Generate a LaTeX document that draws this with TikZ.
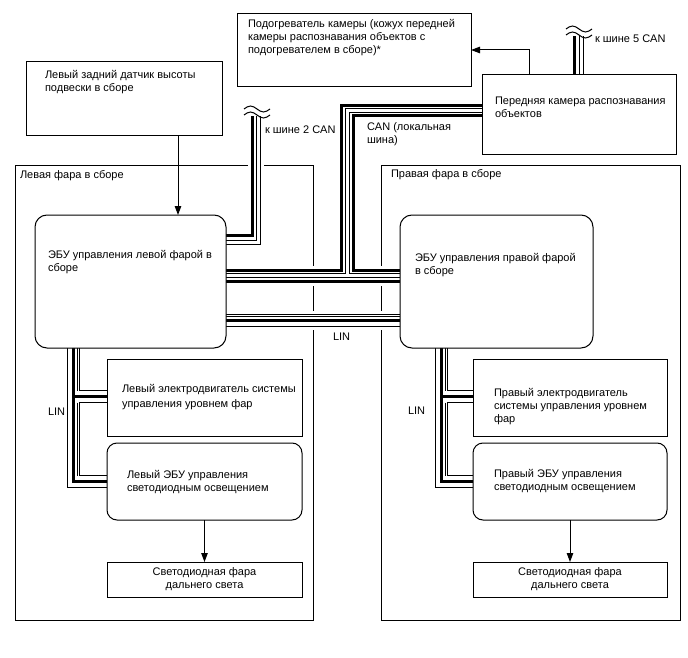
\documentclass[tikz,border=0pt]{standalone}
\usepackage{fontspec}
\setmainfont{Liberation Sans}
\usetikzlibrary{arrows.meta,calc}
\pgfdeclarelayer{frames}
\pgfdeclarelayer{buses}
\pgfsetlayers{frames,buses,main}
\begin{document}
\begin{tikzpicture}[x=1pt,y=-1pt,
  every node/.style={inner sep=0pt, outer sep=0pt},
  ebox/.style={draw, line width=1pt, anchor=north west, fill=white},
  rbox/.style={ebox, rounded corners=12pt},
  hlframe/.style={draw, line width=1pt, anchor=north west},
  ltxt/.style={anchor=north west, align=left, font=\fontsize{11}{13}\selectfont},
  ctxt/.style={align=center, font=\fontsize{11}{13}\selectfont},
  arr/.style={line width=1pt, -{Triangle[length=9pt,width=6.5pt]}},
  wthick/.style={line width=3pt},
  dblout/.style={line width=5pt},
  dblin/.style={line width=3pt, white},
  chout/.style={line width=13pt},
  chin/.style={line width=11pt, white},
  halo/.style={white, line width=#1},
  thinw/.style={line width=0.8pt},
  tildew/.style={line width=1pt},
]
\useasboundingbox (0,0) rectangle (688,658);

% element boxes
\node[ebox, minimum width=234pt, minimum height=73pt] (heater) at (237,14) {};
\node[ebox, minimum width=194pt, minimum height=80pt] (cam) at (482,75) {};
\node[ebox, minimum width=196pt, minimum height=74pt] (sensor) at (26,62) {};
\node[rbox, minimum width=191pt, minimum height=133pt] (ecuL) at (35,215) {};
\node[rbox, minimum width=193pt, minimum height=133pt] (ecuR) at (400,215) {};
\node[ebox, minimum width=195pt, minimum height=77pt] (motL) at (107,359) {};
\node[rbox, rounded corners=10pt, minimum width=195pt, minimum height=77pt] (ledL) at (107,443) {};
\node[ebox, minimum width=195pt, minimum height=35pt] (beamL) at (107,562) {};
\node[ebox, minimum width=194pt, minimum height=77pt] (motR) at (473,359) {};
\node[rbox, rounded corners=10pt, minimum width=194pt, minimum height=77pt] (ledR) at (473,443) {};
\node[ebox, minimum width=194pt, minimum height=35pt] (beamR) at (473,562) {};

\begin{pgfonlayer}{frames}
\node[hlframe, minimum width=298pt, minimum height=455pt] (hlL) at (15,165) {};
\node[hlframe, minimum width=299pt, minimum height=455pt] (hlR) at (381,165) {};
\end{pgfonlayer}

\begin{pgfonlayer}{buses}
% halos
\draw[halo=16] (ecuL.east |- 0,238.75) -| (255.75,112);
\draw[halo=20] (ecuL.east |- 0,275.5) -- (ecuR.west |- 0,275.5);
\draw[halo=19] (ecuL.east |- 0,320) -- (ecuR.west |- 0,320);
% outer black of doubles and channels
\draw[dblout] (ecuL.east |- 0,242) -| (258.5,116);
\draw[dblout] (cam.north -| 581.5,0) -- (581.5,36);
\draw[dblout] (ecuL.east |- 0,275.5) -- (ecuR.west |- 0,275.5);
\draw[dblout] (347,275.5) |- (cam.west |- 0,111);
\draw[chout] (ecuL.east |- 0,320) -- (ecuR.west |- 0,320);
\draw[chout] (ecuL.south -| 73.5,0) |- (ledL.west |- 0,481.5);
\draw[chout] (73.5,396.5) -- (motL.west |- 0,396.5);
\draw[chout] (ecuR.south -| 441.5,0) |- (ledR.west |- 0,481.5);
\draw[chout] (441.5,396.5) -- (motR.west |- 0,396.5);
% white interiors
\draw[dblin] (ecuL.east |- 0,242) -| (258.5,116);
\draw[dblin] (cam.north -| 581.5,0) -- (581.5,36);
\draw[dblin] (ecuL.east |- 0,275.5) -- (ecuR.west |- 0,275.5);
\draw[dblin] (347,275.5) |- (cam.west |- 0,111);
\draw[chin] (ecuL.east |- 0,320) -- (ecuR.west |- 0,320);
\draw[chin] (ecuL.south -| 73.5,0) |- (ledL.west |- 0,481.5);
\draw[chin] (73.5,396.5) -- (motL.west |- 0,396.5);
\draw[chin] (ecuR.south -| 441.5,0) |- (ledR.west |- 0,481.5);
\draw[chin] (441.5,396.5) -- (motR.west |- 0,396.5);
% thick wires
\draw[wthick] (ecuL.east |- 0,235) -| (252,116);
\draw[wthick] (cam.north -| 574,0) -- (574,36);
\draw[wthick] (ecuL.east |- 0,270) -| (341,106) -- (cam.west |- 0,106);
\draw[wthick] (cam.west |- 0,116) -| (353,270) -- (ecuR.west |- 0,270);
\draw[wthick] (ecuL.east |- 0,281) -- (ecuR.west |- 0,281);
\draw[wthick] (ecuL.east |- 0,320) -- (ecuR.west |- 0,320);
\draw[wthick] (ecuL.south -| 73.5,0) |- (ledL.west |- 0,481.5);
\draw[wthick] (73.5,396.5) -- (motL.west |- 0,396.5);
\draw[wthick] (ecuR.south -| 441.5,0) |- (ledR.west |- 0,481.5);
\draw[wthick] (441.5,396.5) -- (motR.west |- 0,396.5);
% extra thin wires
\draw[thinw] (ecuL.east |- 0,316.5) -- (ecuR.west |- 0,316.5);
\draw[thinw] (ecuL.south -| 77,0) -- (77,390.5);
\draw[thinw] (77,402.5) -- (77,475.5);
\draw[thinw] (ecuR.south -| 445,0) -- (445,390.5);
\draw[thinw] (445,402.5) -- (445,475.5);
\end{pgfonlayer}

% bus break marks
\draw[tildew] (244,109) sin (250.5,106) cos (257,109) sin (263.5,112) cos (270,109);
\draw[tildew] (244,115) sin (250.5,112) cos (257,115) sin (263.5,118) cos (270,115);
\draw[tildew] (566,29) sin (572.5,26) cos (579,29) sin (585.5,32) cos (592,29);
\draw[tildew] (566,35) sin (572.5,32) cos (579,35) sin (585.5,38) cos (592,35);

% arrows
\draw[arr] (sensor.south -| 178,0) -- (ecuL.north -| 178,0);
\draw[arr] (ledL.south) -- (beamL.north);
\draw[arr] (ledR.south) -- (beamR.north);
\draw[arr] (cam.north -| 529,0) |- (heater.east |- 0,50);

% texts
\node[ltxt] (t-heater) at (248,19) {Подогреватель камеры (кожух передней\\камеры распознавания объектов с\\подогревателем в сборе)*};
\node[ltxt] (t-cam) at (495,97) {Передняя камера распознавания\\объектов};
\node[ltxt] (t-sensor) at (45,70) {Левый задний датчик высоты\\подвески в сборе};
\node[ltxt] (t-hlL) at (20,170) {Левая фара в сборе};
\node[ltxt] (t-hlR) at (391,169) {Правая фара в сборе};
\node[ltxt] (t-ecuL) at (48,250) {ЭБУ управления левой фарой в\\сборе};
\node[ltxt] (t-ecuR) at (415,253) {ЭБУ управления правой фарой\\в сборе};
\node[ltxt] (t-motL) at (122,384) {Левый электродвигатель системы\\[2pt]управления уровнем фар};
\node[ltxt] (t-motR) at (494,388) {Правый электродвигатель\\системы управления уровнем\\фар};
\node[ltxt] (t-ledL) at (127,470) {Левый ЭБУ управления\\светодиодным освещением};
\node[ltxt] (t-ledR) at (494,469) {Правый ЭБУ управления\\светодиодным освещением};
\node[ctxt] (t-beamL) at (beamL.center) {Светодиодная фара\\дальнего света};
\node[ctxt] (t-beamR) at (beamR.center) {Светодиодная фара\\дальнего света};
\node[ltxt] (t-can2) at (265,126) {к шине 2 CAN};
\node[ltxt] (t-can5) at (595,35) {к шине 5 CAN};
\node[ltxt] (t-canloc) at (367,123) {CAN (локальная\\шина)};
\node[ltxt] (t-lin1) at (333,333) {LIN};
\node[ltxt] (t-lin2) at (48,408) {LIN};
\node[ltxt] (t-lin3) at (408,407) {LIN};
\end{tikzpicture}
\end{document}
